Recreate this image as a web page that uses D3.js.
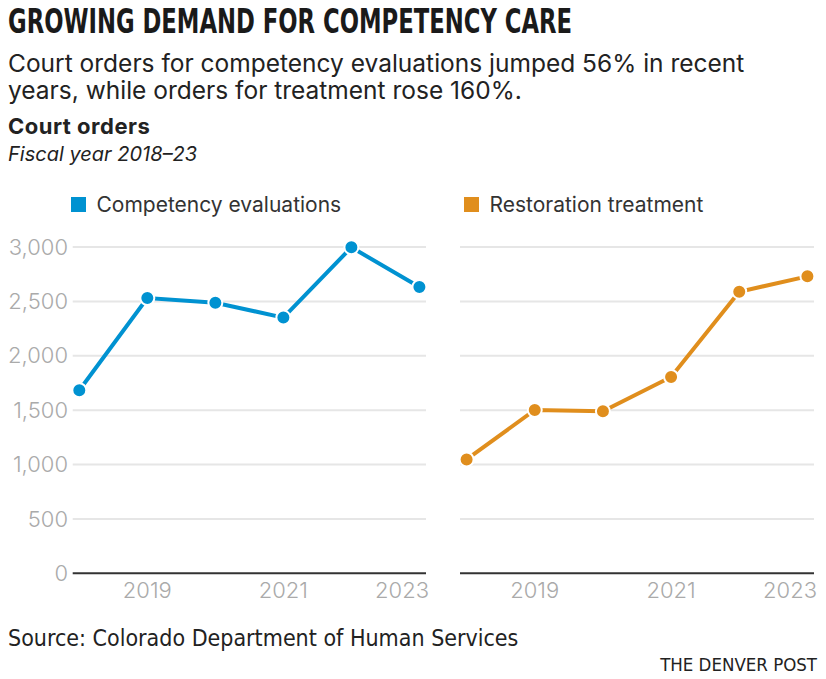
<!DOCTYPE html>
<html>
<head>
<meta charset="utf-8">
<script src="https://cdn.jsdelivr.net/npm/d3@7"></script>
<style>
    body { margin: 0; background: #fff; }
    svg { display: block; }
</style>
</head>
<body>
<div id="chart"></div>
<script>
var years = [2018, 2019, 2020, 2021, 2022, 2023];
var evaluations = [1683, 2531, 2488, 2351, 2997, 2632];
var treatment = [1047, 1502, 1490, 1805, 2589, 2730];
var yTicks = [0, 500, 1000, 1500, 2000, 2500, 3000];
var xTicks = [2019, 2021, 2023];
var seriesNames = ['Competency evaluations', 'Restoration treatment'];
var seriesColors = ['#0092d1', '#e08e1d'];

var width = 826,
    height = 679,
    sans = 'Inter, Roboto, sans-serif',
    narrow = '"Liberation Sans Narrow", "DejaVu Sans Condensed", sans-serif';

var svg = d3.select('#chart').append('svg')
    .attr('width', width)
    .attr('height', height);

// header
svg.append('text')
    .attr('x', 8)
    .attr('y', 33)
    .attr('textLength', 564)
    .attr('lengthAdjust', 'spacingAndGlyphs')
    .style('font-family', '"DejaVu Sans Condensed", "Liberation Sans Narrow", sans-serif')
    .style('font-weight', 'bold')
    .style('font-size', '34px')
    .style('fill', '#1a1a1a')
    .text('GROWING DEMAND FOR COMPETENCY CARE');

svg.selectAll('text.subtitle')
    .data(['Court orders for competency evaluations jumped 56% in recent',
        'years, while orders for treatment rose 160%.'])
    .enter().append('text')
    .attr('class', 'subtitle')
    .attr('x', 8)
    .attr('y', function (d, i) { return 72 + i * 26.5; })
    .style('font-family', sans)
    .style('font-size', '24.5px')
    .style('fill', '#222')
    .text(function (d) { return d; });

svg.append('text')
    .attr('x', 8)
    .attr('y', 134)
    .style('font-family', sans)
    .style('font-weight', 'bold')
    .style('font-size', '22px')
    .style('letter-spacing', '0.5px')
    .style('fill', '#222')
    .text('Court orders');

svg.append('text')
    .attr('x', 8)
    .attr('y', 161)
    .style('font-family', sans)
    .style('font-style', 'italic')
    .style('font-size', '20px')
    .style('fill', '#222')
    .text('Fiscal year 2018–23');

var y = d3.scaleLinear()
    .domain([0, 3000])
    .range([573.3, 247]);

var panels = [
    {data: evaluations, left: 72.7, right: 426, legendX: 71, showY: true},
    {data: treatment, left: 460, right: 814, legendX: 464, showY: false}
];

panels.forEach(function (p, idx) {
    var pad = 6.6,
        x = d3.scaleLinear()
            .domain(d3.extent(years))
            .range([p.left + pad, p.right - pad]),
        g = svg.append('g'),
        line;

    // legend
    g.append('rect')
        .attr('x', p.legendX)
        .attr('y', 197)
        .attr('width', 15)
        .attr('height', 15)
        .style('fill', seriesColors[idx]);
    g.append('text')
        .attr('x', p.legendX + 25.5)
        .attr('y', 212)
        .style('font-family', sans)
        .style('font-size', '21px')
        .style('fill', '#333')
        .text(seriesNames[idx]);

    // gridlines
    g.selectAll('line.grid')
        .data(yTicks.filter(function (t) { return t > 0; }))
        .enter().append('line')
        .attr('class', 'grid')
        .attr('x1', p.left)
        .attr('x2', p.right)
        .attr('y1', function (d) { return y(d); })
        .attr('y2', function (d) { return y(d); })
        .style('stroke', '#e6e6e6')
        .style('stroke-width', 2);

    g.append('line')
        .attr('x1', p.left)
        .attr('x2', p.right)
        .attr('y1', y(0))
        .attr('y2', y(0))
        .style('stroke', '#333')
        .style('stroke-width', 2);

    if (p.showY) {
        g.selectAll('text.ytick')
            .data(yTicks)
            .enter().append('text')
            .attr('class', 'ytick')
            .attr('x', 68)
            .attr('y', function (d) { return y(d); })
            .attr('dy', '0.35em')
            .attr('text-anchor', 'end')
            .style('font-family', sans)
            .style('font-weight', 300)
            .style('font-size', '22px')
            .style('fill', '#aaa')
            .text(function (d) { return d3.format(',')(d); });
    }

    g.selectAll('text.xtick')
        .data(xTicks)
        .enter().append('text')
        .attr('class', 'xtick')
        .attr('x', function (d, i) { return i === xTicks.length - 1 ? p.right + 3 : x(d); })
        .attr('y', 598)
        .attr('text-anchor', function (d, i) { return i === xTicks.length - 1 ? 'end' : 'middle'; })
        .style('font-family', sans)
        .style('font-weight', 300)
        .style('font-size', '22px')
        .style('fill', '#aaa')
        .text(function (d) { return d; });

    line = d3.line()
        .x(function (d, i) { return x(years[i]); })
        .y(function (d) { return y(d); });

    g.append('path')
        .datum(p.data)
        .attr('d', line)
        .style('fill', 'none')
        .style('stroke', seriesColors[idx])
        .style('stroke-width', 4);

    g.selectAll('circle')
        .data(p.data)
        .enter().append('circle')
        .attr('cx', function (d, i) { return x(years[i]); })
        .attr('cy', function (d) { return y(d); })
        .attr('r', 7)
        .style('fill', seriesColors[idx])
        .style('stroke', '#fff')
        .style('stroke-width', 2);
});

// footer
svg.append('text')
    .attr('x', 8)
    .attr('y', 646)
    .style('font-family', narrow)
    .style('font-size', '23px')
    .style('fill', '#222')
    .text('Source: Colorado Department of Human Services');

svg.append('text')
    .attr('x', 817)
    .attr('y', 671)
    .attr('text-anchor', 'end')
    .style('font-family', narrow)
    .style('font-size', '18.5px')
    .style('fill', '#222')
    .text('THE DENVER POST');
</script>
</body>
</html>
